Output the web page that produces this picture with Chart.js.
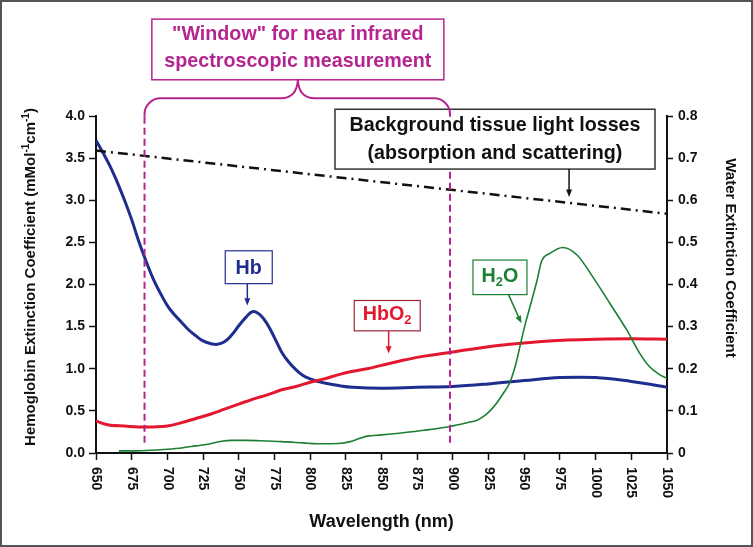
<!DOCTYPE html>
<html><head><meta charset="utf-8">
<script src="https://cdn.jsdelivr.net/npm/chart.js@4.4.0/dist/chart.umd.min.js"></script>
<style>html,body{margin:0;padding:0;background:#fff;overflow:hidden}canvas{display:block}</style>
</head><body>
<canvas id="c" width="753" height="547"></canvas>
<script>
// ---------------- DATA ----------------
const hbWavelengths = [650,655,660,665,670,675,680,685,690,695,700,705,710,715,720,725,730,735,740,745,750,755,760,765,770,775,780,785,790,795,800,805,810,820,830,850,875,900,925,950,975,1000,1025,1040,1050];
const hbValues      = [3.71,3.56,3.40,3.21,3.00,2.77,2.51,2.28,2.07,1.90,1.75,1.64,1.55,1.46,1.39,1.33,1.30,1.29,1.32,1.40,1.51,1.61,1.68,1.64,1.53,1.37,1.20,1.08,0.99,0.92,0.88,0.85,0.83,0.80,0.78,0.77,0.78,0.79,0.82,0.86,0.895,0.895,0.85,0.81,0.78];

const hbo2Wavelengths = [650,655,660,670,680,690,700,710,720,730,740,750,760,770,780,790,800,810,820,830,840,850,865,880,900,920,940,960,980,1000,1025,1050];
const hbo2Values      = [0.38,0.35,0.33,0.32,0.31,0.31,0.32,0.36,0.41,0.46,0.52,0.58,0.64,0.69,0.75,0.79,0.84,0.88,0.93,0.97,1.00,1.04,1.10,1.15,1.20,1.25,1.29,1.32,1.34,1.35,1.355,1.35];

const waterWavelengths = [666,675,685,700,710,720,730,738,745,755,765,780,795,805,815,822,828,835,840,850,865,880,898,910,917,922,926,931,935,940,944,948,951,954,959,962,968,977,987,998,1010,1022,1031,1038,1044,1050];
const waterValues      = [0.005,0.005,0.006,0.009,0.012,0.017,0.022,0.028,0.030,0.030,0.029,0.027,0.024,0.022,0.022,0.023,0.027,0.035,0.040,0.043,0.048,0.054,0.063,0.072,0.078,0.088,0.100,0.120,0.140,0.168,0.210,0.268,0.310,0.347,0.410,0.454,0.474,0.488,0.470,0.418,0.355,0.291,0.236,0.204,0.188,0.177];

const tissueWavelengths = [650, 1050];
const tissueValues      = [3.59, 2.84];

const windowEdges = [684, 898];

const xTickValues = [650,675,700,725,750,775,800,825,850,875,900,925,950,975,1000,1025,1050];
const xTickLabels = ['650','675','700','725','750','775','800','825','850','875','900','925','950','975','1000','1025','1050'];

// ---------------- STYLE ----------------
const FAM = '"Liberation Sans", Arial, Helvetica, sans-serif';
const BLUE = '#1F2E8E', RED = '#E3172D', GREEN = '#1B7F34', MAG = '#B5258F';
const ANN = 19.7;

const zip = (xs, ys) => xs.map((x, i) => ({x, y: ys[i]}));

function fontFor(s, size) {
  const sz = (s.sub || s.sup) ? Math.round(size * 0.65) : size;
  return `bold ${sz}px ${FAM}`;
}
function richWidth(ctx, segs, size) {
  let w = 0;
  for (const s of segs) { ctx.font = fontFor(s, size); w += ctx.measureText(s.t).width; }
  return w;
}
function drawRich(ctx, segs, cx, cy, size, color, rot) {
  ctx.save();
  ctx.translate(cx, cy);
  ctx.rotate(rot || 0);
  ctx.fillStyle = color;
  ctx.textBaseline = 'middle';
  ctx.textAlign = 'left';
  const w = richWidth(ctx, segs, size);
  let x = -w / 2;
  for (const s of segs) {
    ctx.font = fontFor(s, size);
    const dy = s.sub ? size * 0.3 : (s.sup ? -size * 0.35 : 0);
    ctx.fillText(s.t, x, dy);
    x += ctx.measureText(s.t).width;
  }
  ctx.restore();
}
function arrow(ctx, x1, y1, x2, y2, color, lw, head) {
  head = head || 8;
  const a = Math.atan2(y2 - y1, x2 - x1);
  ctx.save();
  ctx.strokeStyle = color; ctx.fillStyle = color; ctx.lineWidth = lw || 1.5;
  ctx.beginPath();
  ctx.moveTo(x1, y1);
  ctx.lineTo(x2 - Math.cos(a) * head * 0.8, y2 - Math.sin(a) * head * 0.8);
  ctx.stroke();
  ctx.beginPath();
  ctx.moveTo(x2, y2);
  ctx.lineTo(x2 - head * Math.cos(a - 0.38), y2 - head * Math.sin(a - 0.38));
  ctx.lineTo(x2 - head * Math.cos(a + 0.38), y2 - head * Math.sin(a + 0.38));
  ctx.closePath();
  ctx.fill();
  ctx.restore();
}
function box(ctx, cx, top, bottom, w, color, lw) {
  ctx.save();
  ctx.fillStyle = '#fff';
  ctx.fillRect(cx - w / 2, top, w, bottom - top);
  ctx.strokeStyle = color; ctx.lineWidth = lw || 1.2;
  ctx.strokeRect(cx - w / 2, top, w, bottom - top);
  ctx.restore();
}

const annotPlugin = {
  id: 'annot',
  afterDatasetsDraw(chart) {
    const ctx = chart.ctx;
    const X = v => chart.scales.x.getPixelForValue(v);
    const Y = v => chart.scales.y.getPixelForValue(v);
    ctx.save();
    ctx.strokeStyle = MAG; ctx.lineWidth = 2; ctx.setLineDash([7, 4]);
    for (const w of windowEdges) {
      ctx.beginPath();
      ctx.moveTo(X(w), Y(3.99));
      ctx.lineTo(X(w), Y(0.12));
      ctx.stroke();
    }
    ctx.restore();
  },
  afterDraw(chart) {
    const ctx = chart.ctx;
    const X = v => chart.scales.x.getPixelForValue(v);
    const Y = v => chart.scales.y.getPixelForValue(v);

    // Background tissue box
    const bgc = X(929.5);
    box(ctx, bgc, Y(4.08), Y(3.37), 320, '#333', 1.5);
    drawRich(ctx, [{t: 'Background tissue light losses'}], bgc, Y(4.08) + 16, ANN, '#111');
    drawRich(ctx, [{t: '(absorption and scattering)'}], bgc, Y(4.08) + 44, ANN, '#111');
    arrow(ctx, X(981.4), Y(3.37), X(981.4), Y(3.04), '#111', 1.5, 8);

    // Window box + brace
    const wc = X(791.4);
    box(ctx, wc, Y(5.15), Y(4.43), 292, MAG, 1.5);
    drawRich(ctx, [{t: '"Window" for near infrared'}], wc, Y(5.15) + 15, ANN, MAG);
    drawRich(ctx, [{t: 'spectroscopic measurement'}], wc, Y(5.15) + 42, ANN, MAG);

    const xl = X(windowEdges[0]), xr = X(windowEdges[1]);
    const hy = Y(4.21), py = Y(4.43), r = 16;
    ctx.save();
    ctx.strokeStyle = MAG; ctx.lineWidth = 2;
    ctx.beginPath();
    ctx.moveTo(xl, Y(3.99));
    ctx.lineTo(xl, hy + r);
    ctx.arcTo(xl, hy, xl + r, hy, r);
    ctx.lineTo(wc - 17, hy);
    ctx.quadraticCurveTo(wc - 1, hy, wc, py);
    ctx.quadraticCurveTo(wc + 1, hy, wc + 17, hy);
    ctx.lineTo(xr - r, hy);
    ctx.arcTo(xr, hy, xr, hy + r, r);
    ctx.lineTo(xr, Y(3.99));
    ctx.stroke();
    ctx.restore();

    // Hb label
    const hbc = X(757);
    box(ctx, hbc, Y(2.40), Y(2.01), 47, BLUE, 1.2);
    drawRich(ctx, [{t: 'Hb'}], hbc, (Y(2.40) + Y(2.01)) / 2 + 1, ANN, BLUE);
    arrow(ctx, X(756), Y(2.01), X(756), Y(1.75), BLUE, 1.5, 8);

    // HbO2 label
    const hoc = X(854);
    box(ctx, hoc, Y(1.81), Y(1.45), 66, '#9B2433', 1.2);
    drawRich(ctx, [{t: 'HbO'}, {t: '2', sub: true}], hoc, (Y(1.81) + Y(1.45)) / 2 - 1, ANN, RED);
    arrow(ctx, X(855), Y(1.45), X(855), Y(1.18), RED, 1.5, 8);

    // H2O label
    const wcx = X(933);
    box(ctx, wcx, Y(2.29), Y(1.88), 54, GREEN, 1.2);
    drawRich(ctx, [{t: 'H'}, {t: '2', sub: true}, {t: 'O'}], wcx, (Y(2.29) + Y(1.88)) / 2 - 1, ANN, GREEN);
    arrow(ctx, X(939), Y(1.88), X(948), Y(1.54), GREEN, 1.5, 8);

    // x tick labels (rotated clockwise)
    const xs = chart.scales.x;
    ctx.save();
    ctx.fillStyle = '#111';
    ctx.font = `bold 14px ${FAM}`;
    ctx.textAlign = 'left'; ctx.textBaseline = 'middle';
    xTickValues.forEach((v, i) => {
      ctx.save();
      ctx.translate(xs.getPixelForValue(v), chart.chartArea.bottom + 14);
      ctx.rotate(Math.PI / 2);
      ctx.fillText(xTickLabels[i], 0, 0);
      ctx.restore();
    });
    ctx.restore();

    // axis titles
    const ca = chart.chartArea;
    drawRich(ctx, [{t: 'Wavelength (nm)'}], (ca.left + ca.right) / 2, 522, 18, '#111');
    drawRich(ctx, [{t: 'Hemoglobin Extinction Coefficient (mMol'}, {t: '-1', sup: true}, {t: 'cm'}, {t: '-1', sup: true}, {t: ')'}],
             31, 277, 15, '#111', -Math.PI / 2);
    drawRich(ctx, [{t: 'Water Extinction Coefficient'}], 730, 258, 15, '#111', Math.PI / 2);

    // frame
    ctx.save();
    ctx.strokeStyle = '#555'; ctx.lineWidth = 2;
    ctx.strokeRect(1, 1, chart.width - 2, chart.height - 2);
    ctx.restore();
  }
};

const gridOpts = {drawOnChartArea: false, drawTicks: true, tickLength: 7, tickColor: '#111', tickWidth: 1.5};
const borderOpts = {display: true, color: '#111', width: 2};

new Chart(document.getElementById('c'), {
  type: 'scatter',
  data: {
    datasets: [
      {label: 'Tissue', data: zip(tissueWavelengths, tissueValues), showLine: true, borderColor: '#111', borderWidth: 2.5, borderDash: [10, 5, 2, 5], pointRadius: 0, yAxisID: 'y'},
      {label: 'H2O', data: zip(waterWavelengths, waterValues), showLine: true, borderColor: GREEN, borderWidth: 1.6, pointRadius: 0, cubicInterpolationMode: 'monotone', yAxisID: 'y2'},
      {label: 'HbO2', data: zip(hbo2Wavelengths, hbo2Values), showLine: true, borderColor: RED, borderWidth: 3, pointRadius: 0, tension: 0.4, yAxisID: 'y'},
      {label: 'Hb', data: zip(hbWavelengths, hbValues), showLine: true, borderColor: BLUE, borderWidth: 3, pointRadius: 0, tension: 0.4, yAxisID: 'y'}
    ]
  },
  options: {
    responsive: false, animation: false, devicePixelRatio: 1,
    layout: {padding: {top: 116, left: 0, right: 0, bottom: 0}},
    plugins: {legend: {display: false}, tooltip: {enabled: false}},
    scales: {
      x: {
        type: 'linear', position: 'bottom', min: 650, max: 1050,
        ticks: {stepSize: 25, autoSkip: false, maxRotation: 0, color: 'rgba(0,0,0,0)', font: {size: 8}},
        grid: gridOpts, border: borderOpts,
        afterFit: s => { s.height = 94; }
      },
      y: {
        position: 'left', min: 0, max: 4,
        ticks: {stepSize: 0.5, callback: v => Number(v).toFixed(1), color: '#111', padding: 4, font: {family: FAM, size: 14, weight: 'bold'}},
        grid: gridOpts, border: borderOpts,
        afterFit: s => { s.width = 96; }
      },
      y2: {
        position: 'right', min: 0, max: 0.8,
        ticks: {stepSize: 0.1, callback: v => (Math.abs(v) < 1e-9 ? '0' : Number(v).toFixed(1)), color: '#111', padding: 5, font: {family: FAM, size: 14, weight: 'bold'}},
        grid: {drawOnChartArea: false, drawTicks: true, tickLength: 6, tickColor: '#111', tickWidth: 1.5}, border: borderOpts,
        afterFit: s => { s.width = 86; }
      }
    }
  },
  plugins: [annotPlugin]
});
</script>
</body></html>
